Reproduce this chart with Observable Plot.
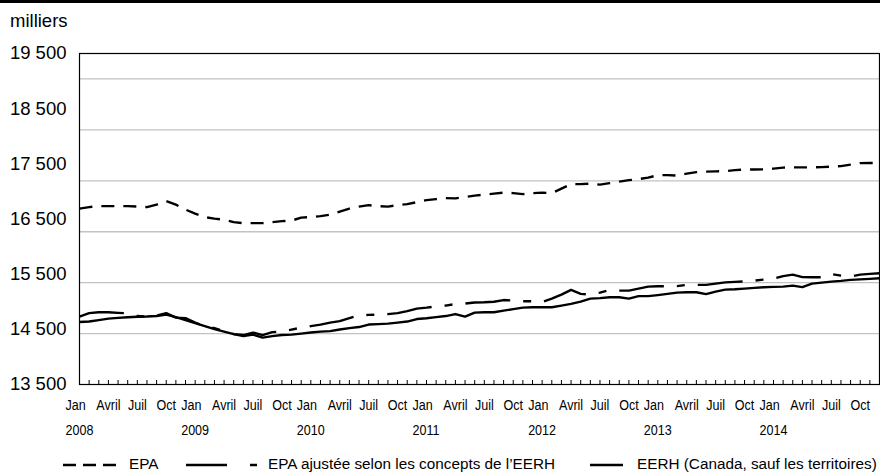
<!DOCTYPE html>
<html>
<head>
<meta charset="utf-8">
<script src="https://cdn.jsdelivr.net/npm/d3@7"></script>
<script src="https://cdn.jsdelivr.net/npm/@observablehq/plot@0.6"></script>
<style>
  body { margin: 0; background: #fff; }
  #wrap { position: relative; width: 880px; height: 476px; overflow: hidden; background: #fff; }
  #chart { position: absolute; left: 0; top: 0; }
  #overlay { position: absolute; left: 0; top: 0; pointer-events: none; }
</style>
</head>
<body>
<div id="wrap"><div id="chart"></div></div>
<script>
// ---- categories ----
const years = [2008, 2009, 2010, 2011, 2012, 2013, 2014];
const labelMonths = ["Jan", "Avril", "Juil", "Oct"]; // shown at months 1, 4, 7, 10
const labelMonthIdx = [0, 3, 6, 9];

// ---- y tick labels (as printed) and gridline values ----
const yTickLabels = ["13 500", "14 500", "15 500", "16 500", "17 500", "18 500", "19 500"];
const yGrid = [14500, 15500, 16500, 17500, 18500, 19500];
const yDomain = [13500, 20000];

// ---- series (thousands), Jan 2008 .. Dec 2014 ----
const epa = [16954,16983,17003,17003,17003,17003,16993,16983,17032,17101,17032,16934,
  16856,16787,16757,16738,16689,16669,16669,16669,16689,16708,16718,16777,
  16787,16807,16836,16895,16954,16993,17022,17003,16993,17022,17042,17081,
  17121,17140,17160,17156,17180,17209,17229,17248,17268,17258,17238,17258,
  17268,17258,17346,17435,17435,17445,17425,17454,17484,17513,17533,17562,
  17611,17611,17602,17641,17670,17680,17686,17690,17710,17719,17723,17725,
  17739,17759,17764,17764,17764,17768,17778,17788,17817,17847,17851,17851];

const epaAjustee = [14834,14902,14918,14918,14906,14898,14844,14834,14853,14902,14814,14804,
  14716,14647,14608,14549,14490,14471,14520,14471,14529,14539,14579,14618,
  14647,14677,14716,14745,14804,14863,14867,14873,14883,14902,14942,14991,
  15010,15034,15050,15079,15089,15109,15114,15124,15158,15148,15134,15134,
  15118,15187,15266,15358,15279,15266,15305,15354,15344,15344,15383,15423,
  15428,15428,15432,15456,15456,15456,15482,15505,15515,15525,15540,15560,
  15580,15629,15658,15609,15605,15605,15668,15639,15619,15658,15672,15684];

const eerh = [14726,14736,14765,14794,14808,14820,14830,14834,14844,14873,14824,14765,
  14706,14647,14588,14539,14490,14451,14480,14421,14451,14471,14480,14500,
  14520,14539,14549,14579,14608,14628,14677,14686,14696,14716,14736,14785,
  14800,14824,14844,14883,14834,14912,14918,14918,14951,14981,15010,15016,
  15016,15016,15050,15083,15128,15187,15197,15213,15213,15187,15236,15236,
  15256,15279,15305,15311,15311,15275,15324,15364,15370,15383,15397,15409,
  15417,15423,15442,15413,15482,15501,15521,15535,15554,15564,15574,15586];

// ---- build tables ----
const keys = years.flatMap(y => d3.range(12).map(m => `${y}-${String(m + 1).padStart(2, "0")}`));
const rows = vals => keys.map((k, i) => ({m: k, v: vals[i]}));

const janLabels = years.map(y => ({m: `${y}-01`, t: labelMonths[0]}));
const yearLabels = years.map(y => ({m: `${y}-01`, t: String(y)}));
const otherLabels = years.flatMap(y => labelMonthIdx.slice(1).map((mi, j) => ({
  m: `${y}-${String(mi + 1).padStart(2, "0")}`, t: labelMonths[j + 1]
})));

const yLabelPos = yTickLabels.map((_, k) => yDomain[0] + k * (yDomain[1] - yDomain[0]) / (yTickLabels.length - 1));
const yLabelMap = new Map(yLabelPos.map((p, k) => [p, yTickLabels[k]]));

const labelStyle = {x: "m", text: "t", frameAnchor: "bottom", lineAnchor: "top", fontSize: 15.3, fill: "black"};

const chart = Plot.plot({
  width: 880,
  height: 476,
  marginTop: 53,
  marginBottom: 92,
  marginLeft: 79,
  marginRight: 1,
  style: {fontFamily: "'Liberation Sans', Arial, sans-serif", background: "white", color: "black"},
  x: {type: "point", domain: keys, padding: 0, axis: null},
  y: {domain: yDomain, axis: null},
  marks: [
    Plot.gridY(yGrid, {stroke: "#c3c3c3", strokeOpacity: 1, strokeWidth: 1.3}),
    Plot.axisY(yLabelPos, {tickSize: 0, tickPadding: 13, tickFormat: d => yLabelMap.get(d), fontSize: 18.5, label: null}),
    Plot.axisX(keys, {tickSize: 4, dy: -4, tickFormat: () => "", label: null, stroke: "black"}),
    Plot.text(janLabels, {...labelStyle, dy: 15, dx: -14, textAnchor: "start"}),
    Plot.text(yearLabels, {...labelStyle, dy: 40, dx: -14, textAnchor: "start"}),
    Plot.text(otherLabels, {...labelStyle, dy: 15, textAnchor: "middle"}),
    Plot.line(rows(eerh), {x: "m", y: "v", stroke: "black", strokeWidth: 2.4, strokeLinecap: "butt"}),
    Plot.line(rows(epaAjustee), {x: "m", y: "v", stroke: "black", strokeWidth: 2.4, strokeLinecap: "butt",
      strokeDasharray: "45,13,8,13"}),
    Plot.line(rows(epa), {x: "m", y: "v", stroke: "black", strokeWidth: 2.4, strokeLinecap: "butt",
      strokeDasharray: "13,9"}),
    Plot.frame({stroke: "black", strokeWidth: 1.2})
  ]
});
document.getElementById("chart").appendChild(chart);

// condense the month/year labels horizontally (narrow face in the original)
d3.select(chart).selectAll('g[aria-label="text"] text').each(function () {
  const t = this.getAttribute("transform") || "";
  this.setAttribute("transform", t + " scale(0.82,1)");
});

// ---- overlay: top rule, unit label, legend ----
const ov = d3.select("#wrap").append("svg").attr("id", "overlay")
  .attr("width", 880).attr("height", 476)
  .style("font-family", "'Liberation Sans', Arial, sans-serif");
ov.append("rect").attr("x", 0).attr("y", 0).attr("width", 880).attr("height", 3).attr("fill", "black");
ov.append("text").attr("x", 10).attr("y", 27).attr("font-size", 18.5).text("milliers");

const legendItems = [
  {x1: 63, x2: 117, dash: "13,7", tx: 129, label: "EPA"},
  {x1: 186, x2: 257, dash: "41,23,7,100", tx: 268, label: "EPA ajustée selon les concepts de l’EERH"},
  {x1: 590, x2: 623, dash: null, tx: 637, label: "EERH (Canada, sauf les territoires)"}
];
const lg = ov.append("g");
legendItems.forEach(it => {
  const l = lg.append("line").attr("x1", it.x1).attr("x2", it.x2).attr("y1", 465).attr("y2", 465)
    .attr("stroke", "black").attr("stroke-width", 2.4);
  if (it.dash) l.attr("stroke-dasharray", it.dash);
  lg.append("text").attr("x", it.tx).attr("y", 469).attr("font-size", 15.3).text(it.label);
});
</script>
</body>
</html>
